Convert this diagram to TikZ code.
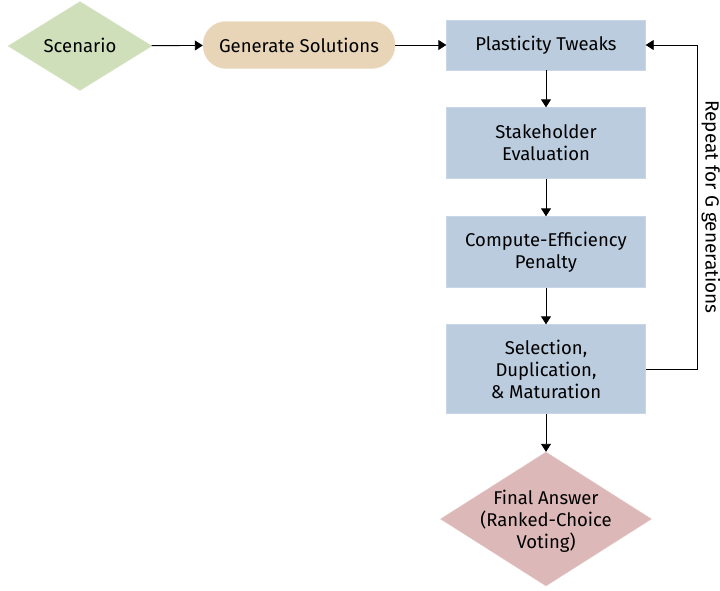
\documentclass[tikz,border=0pt]{standalone}
\usepackage{fontspec}
\setmainfont{Fira Sans}
\usetikzlibrary{shapes.geometric,arrows.meta}
\definecolor{scenG}{HTML}{CFDFBA}
\definecolor{genT}{HTML}{E8D5B8}
\definecolor{stepB}{HTML}{BBCCDF}
\definecolor{finR}{HTML}{DDB8B8}
\tikzset{
  txt/.style={align=center,font=\fontsize{18.5}{22}\selectfont},
  stepbox/.style={txt,draw=stepB!80!white,fill=stepB,minimum width=199pt},
  decide/.style={diamond,draw=#1!80!white,fill=#1,inner sep=0pt},
  flow/.style={-{Triangle[length=8pt,width=10pt]},line width=0.9pt}
}
\begin{document}
\begin{tikzpicture}[x=1pt,y=-1pt]
      \useasboundingbox (0,0) rectangle (720,590);
      \node[decide=scenG,minimum width=144pt,minimum height=89pt](scen) at (80,46) {};
      \node[txt](scenT) at (80,45) {Scenario};
      \node[txt,draw=genT!80!white,fill=genT,rounded corners=23pt,minimum width=192pt,minimum height=47pt](gen) at (299,45) {Generate Solutions};
      \node[stepbox,minimum height=50pt](pla) at (546,45) {Plasticity Tweaks};
      \node[stepbox,minimum height=71pt](stk) at (546,143) {Stakeholder\\Evaluation};
      \node[stepbox,minimum height=71pt](cmp) at (546,252) {Compute-Efficiency\\Penalty};
      \node[stepbox,minimum height=89pt](sel) at (546,369) {Selection,\\Duplication,\\\& Maturation};
      \node[decide=finR,minimum width=211pt,minimum height=134pt](fin) at (546,519) {};
      \node[txt](finT) at (546,521) {Final Answer\\(Ranked-Choice\\Voting)};
      \foreach \x/\y in{scen/gen,gen/pla,pla/stk,stk/cmp,cmp/sel,sel/fin}{
        \draw[flow](\x)--(\y);
      }
      % loop back
      \coordinate(turn) at (697,369);
      \draw[flow](sel.east)--(turn)|-(pla.east);
      \node[rotate=-90,font=\fontsize{19}{22}\selectfont](rep) at (711,207) {Repeat for G generations};
    \end{tikzpicture}
\end{document}
